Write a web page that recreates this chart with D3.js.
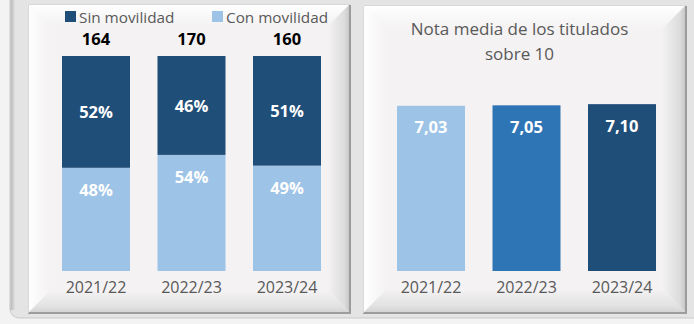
<!DOCTYPE html>
<html>
<head>
<meta charset="utf-8">
<script src="https://cdn.jsdelivr.net/npm/d3@7"></script>
<style>
  html, body { margin: 0; padding: 0; background: #f3f3f3; }
  svg { display: block; }
  text { font-family: "Open Sans", "Noto Sans", sans-serif; }
</style>
</head>
<body>
<svg id="chart" width="694" height="324"></svg>
<script>
// Students by mobility (share of graduates) and average grade
const years = ["2021/22", "2022/23", "2023/24"];
const totals = [164, 170, 160];
const sinMovilidad = [0.52, 0.46, 0.51];
const conMovilidad = [0.48, 0.54, 0.49];
const notaMedia = [7.03, 7.05, 7.10];
const seriesNames = ["Sin movilidad", "Con movilidad"];
const titleLines = ["Nota media de los titulados", "sobre 10"];

const C_DARK = "#1f4e79", C_MID = "#2e75b6", C_LIGHT = "#9dc3e6";
const TXT = "#595959";

const svg = d3.select("#chart");
const defs = svg.append("defs");

function grad(id, x1, y1, x2, y2, stops) {
  const g = defs.append("linearGradient").attr("id", id)
    .attr("x1", x1).attr("y1", y1).attr("x2", x2).attr("y2", y2);
  stops.forEach(([o, c]) => g.append("stop").attr("offset", o).attr("stop-color", c));
}
grad("frameL", 0, 0, 1, 0, [[0, "#b9b9b9"], [1, "#e4e4e4"]]);
grad("bvTop", 0, 0, 0, 1, [[0, "#ffffff"], [1, "#f4f2f3"]]);
grad("bvLeft", 0, 0, 1, 0, [[0, "#ffffff"], [1, "#f4f2f3"]]);
grad("bvRight", 1, 0, 0, 0, [[0, "#c4c4c4"], [0.25, "#dcdcdc"], [1, "#f4f2f3"]]);
grad("bvBottom", 0, 1, 0, 0, [[0, "#d2d2d2"], [0.3, "#e2e2e2"], [1, "#f4f2f3"]]);

// outer frame
svg.append("rect").attr("x", 10).attr("y", -20).attr("width", 720).attr("height", 338)
  .attr("rx", 9).attr("fill", "#e4e4e4").attr("stroke", "#c9c9c9").attr("stroke-width", 1);
svg.append("rect").attr("x", 10.5).attr("y", -20).attr("width", 5).attr("height", 330)
  .attr("fill", "url(#frameL)");

// bevelled panel
function panel(x0, y0, x1, y1, b) {
  const g = svg.append("g");
  g.append("rect").attr("x", x0).attr("y", y0).attr("width", x1 - x0).attr("height", y1 - y0)
    .attr("fill", "#f4f2f3");
  const poly = (pts, fill) => g.append("polygon")
    .attr("points", pts.map(p => p.join(",")).join(" ")).attr("fill", fill);
  poly([[x0, y0], [x1, y0], [x1 - b, y0 + b], [x0 + b, y0 + b]], "url(#bvTop)");
  poly([[x0, y0], [x0 + b, y0 + b], [x0 + b, y1 - b], [x0, y1]], "url(#bvLeft)");
  poly([[x1, y0], [x1, y1], [x1 - b, y1 - b], [x1 - b, y0 + b]], "url(#bvRight)");
  poly([[x0, y1], [x0 + b, y1 - b], [x1 - b, y1 - b], [x1, y1]], "url(#bvBottom)");
  g.append("path").attr("d", `M${x1},${y0 + 1} V${y1} H${x0}`)
    .attr("fill", "none").attr("stroke", "#9c9c9c").attr("stroke-width", 2);
  g.append("path").attr("d", `M${x0 + 0.5},${y1} V${y0 + 0.5} H${x1}`)
    .attr("fill", "none").attr("stroke", "#d8d8d8").attr("stroke-width", 1);
}
panel(28, 4, 350, 313, 22);
panel(363, 5, 686, 313, 24);

// ---- left chart: 100% stacked bars ----
const xL = d3.scaleBand().domain(years).range([48.25, 334.75]).paddingInner(0.288).paddingOuter(0.144);
const yL = d3.scaleLinear().domain([0, 1]).range([271, 56]);

const stackData = years.map((y, i) => ({ year: y, con: conMovilidad[i], sin: sinMovilidad[i], total: totals[i] }));
const left = svg.append("g");

left.selectAll(".con").data(stackData).join("rect")
  .attr("x", d => xL(d.year)).attr("width", xL.bandwidth())
  .attr("y", d => yL(d.con)).attr("height", d => yL(0) - yL(d.con))
  .attr("fill", C_LIGHT);
left.selectAll(".sin").data(stackData).join("rect")
  .attr("x", d => xL(d.year)).attr("width", xL.bandwidth())
  .attr("y", d => yL(d.con + d.sin)).attr("height", d => yL(d.con) - yL(d.con + d.sin))
  .attr("fill", C_DARK);

const pct = d3.format(".0%");
left.selectAll(".lsin").data(stackData).join("text")
  .attr("x", d => xL(d.year) + xL.bandwidth() / 2)
  .attr("y", d => (yL(d.con) + yL(d.con + d.sin)) / 2)
  .attr("text-anchor", "middle").attr("dominant-baseline", "central")
  .attr("fill", "#fff").attr("font-weight", 700).attr("font-size", 16.5)
  .text(d => pct(d.sin));
left.selectAll(".lcon").data(stackData).join("text")
  .attr("x", d => xL(d.year) + xL.bandwidth() / 2)
  .attr("y", d => yL(d.con) + 22)
  .attr("text-anchor", "middle").attr("dominant-baseline", "central")
  .attr("fill", "#fff").attr("font-weight", 700).attr("font-size", 16.5)
  .text(d => pct(d.con));
left.selectAll(".tot").data(stackData).join("text")
  .attr("x", d => xL(d.year) + xL.bandwidth() / 2)
  .attr("y", 38.5)
  .attr("text-anchor", "middle").attr("dominant-baseline", "central")
  .attr("fill", "#000").attr("font-weight", 700).attr("font-size", 16.5)
  .text(d => d.total);

const axL = left.append("g").attr("transform", "translate(0,285)")
  .call(d3.axisBottom(xL).tickSize(0).tickPadding(0));
axL.select(".domain").remove();
axL.selectAll("text").attr("font-size", 16).attr("fill", TXT)
  .attr("font-family", "'Open Sans', sans-serif").attr("dy", "0.5em");

// legend
const legX = [65, 212];
const legColors = [C_DARK, C_LIGHT];
const leg = left.selectAll(".leg").data(seriesNames).join("g")
  .attr("transform", (d, i) => `translate(${legX[i]},11)`);
leg.append("rect").attr("width", 11).attr("height", 11).attr("fill", (d, i) => legColors[i]);
leg.append("text").attr("x", 14).attr("y", 5.5).attr("dominant-baseline", "central")
  .attr("font-size", 15.3).attr("fill", TXT).text(d => d);

// ---- right chart: average grade ----
const xR = d3.scaleBand().domain(years).range([383.25, 669.75]).paddingInner(0.288).paddingOuter(0.144);
const yR = d3.scaleLinear().domain([0, 10]).range([271, 36]);
const barColors = [C_LIGHT, C_MID, C_DARK];
const gradeData = years.map((y, i) => ({ year: y, v: notaMedia[i], c: barColors[i] }));
const right = svg.append("g");

right.selectAll(".nb").data(gradeData).join("rect")
  .attr("x", d => xR(d.year)).attr("width", xR.bandwidth())
  .attr("y", d => yR(d.v)).attr("height", d => yR(0) - yR(d.v))
  .attr("fill", d => d.c);

const comma = d3.formatLocale({ decimal: ",", thousands: ".", grouping: [3], currency: ["", "€"] }).format(".2f");
right.selectAll(".nl").data(gradeData).join("text")
  .attr("x", d => xR(d.year) + xR.bandwidth() / 2)
  .attr("y", d => yR(d.v) + 21)
  .attr("text-anchor", "middle").attr("dominant-baseline", "central")
  .attr("fill", "#fff").attr("font-weight", 700).attr("font-size", 16.5)
  .text(d => comma(d.v));

const axR = right.append("g").attr("transform", "translate(0,285)")
  .call(d3.axisBottom(xR).tickSize(0).tickPadding(0));
axR.select(".domain").remove();
axR.selectAll("text").attr("font-size", 16).attr("fill", TXT)
  .attr("font-family", "'Open Sans', sans-serif").attr("dy", "0.5em");

right.selectAll(".title").data(titleLines).join("text")
  .attr("x", 519.5).attr("y", (d, i) => 28 + i * 25)
  .attr("text-anchor", "middle").attr("dominant-baseline", "central")
  .attr("font-size", 17).attr("fill", TXT).text(d => d);
</script>
</body>
</html>
